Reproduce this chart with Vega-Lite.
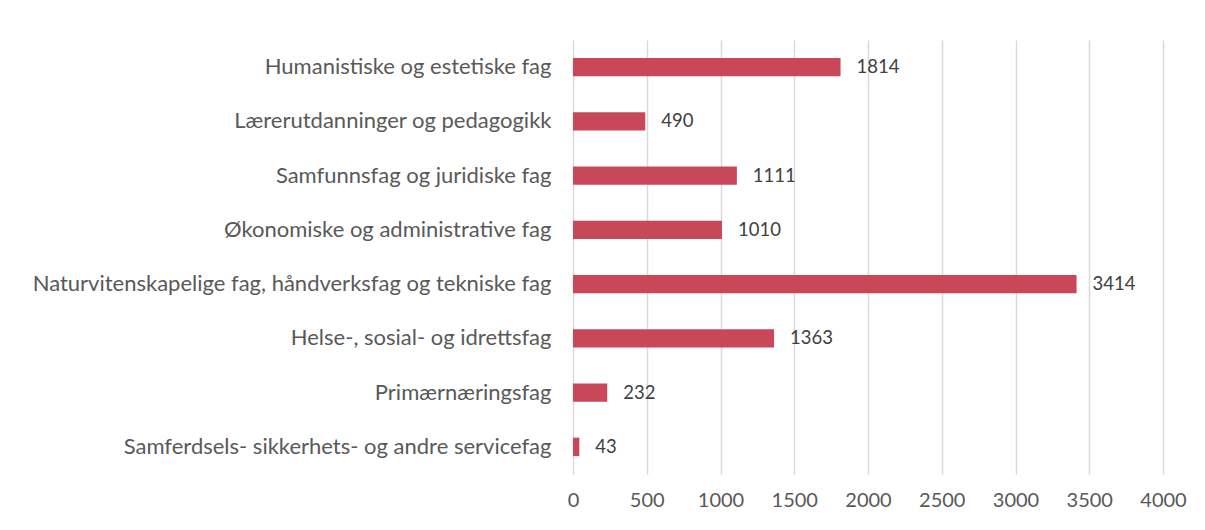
{
  "$schema": "https://vega.github.io/schema/vega-lite/v6.json",
  "autosize": "none",
  "width": 590,
  "height": 434,
  "padding": {"left": 573, "top": 40, "right": 42, "bottom": 56},
  "background": "white",
  "data": {"values": [
    {"fag": "Humanistiske og estetiske fag", "antall": 1814},
    {"fag": "Lærerutdanninger og pedagogikk", "antall": 490},
    {"fag": "Samfunnsfag og juridiske fag", "antall": 1111},
    {"fag": "Økonomiske og administrative fag", "antall": 1010},
    {"fag": "Naturvitenskapelige fag, håndverksfag og tekniske fag", "antall": 3414},
    {"fag": "Helse-, sosial- og idrettsfag", "antall": 1363},
    {"fag": "Primærnæringsfag", "antall": 232},
    {"fag": "Samferdsels- sikkerhets- og andre servicefag", "antall": 43}
  ]},
  "encoding": {
    "y": {"field": "fag", "type": "nominal", "sort": null,
      "scale": {"paddingInner": 0.66, "paddingOuter": 0.33},
      "axis": {"title": null, "domain": false, "ticks": false, "labelPadding": 22, "labelFontSize": 22, "labelFont": "Lato", "labelColor": "#595959", "labelLimit": 600}},
    "x": {"field": "antall", "type": "quantitative",
      "scale": {"domain": [0, 4000], "nice": false},
      "axis": {"title": null, "format": "d", "values": [0,500,1000,1500,2000,2500,3000,3500,4000], "domain": false, "ticks": false, "grid": true, "gridColor": "#d9d9d9", "gridWidth": 1.5, "labelPadding": 16, "labelFontSize": 20, "labelFont": "Lato", "labelColor": "#595959", "labelFlush": false}}
  },
  "layer": [
    {"mark": {"type": "bar", "color": "#C8485A"}},
    {"mark": {"type": "text", "align": "left", "dx": 16, "fontSize": 18.5, "font": "Lato", "color": "#404040"},
     "encoding": {"text": {"field": "antall", "type": "quantitative", "format": "d"}}}
  ],
  "config": {"view": {"stroke": null}}
}
